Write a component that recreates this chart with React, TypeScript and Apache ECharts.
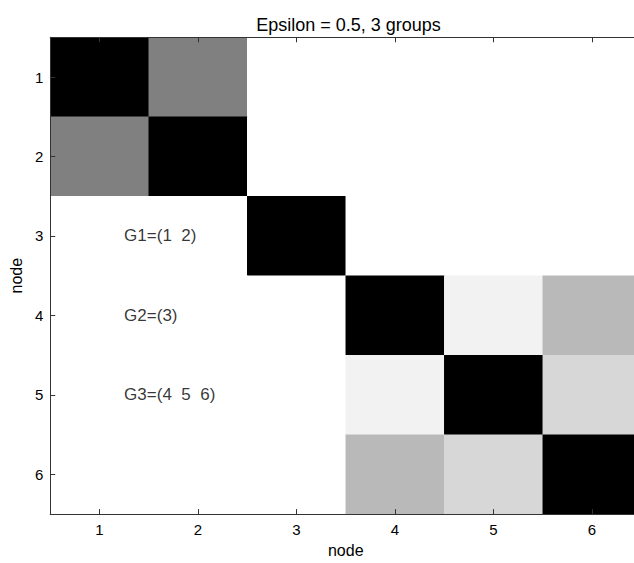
import React, { useEffect, useRef } from "react";
import * as echarts from "echarts";

const nodes = ["1", "2", "3", "4", "5", "6"];
const similarity: number[][] = [
  [1, 0.5, 0, 0, 0, 0],
  [0.5, 1, 0, 0, 0, 0],
  [0, 0, 1, 0, 0, 0],
  [0, 0, 0, 1, 0.05, 0.275],
  [0, 0, 0, 0.05, 1, 0.157],
  [0, 0, 0, 0.275, 0.157, 1],
];
const groupLabels = ["G1=(1  2)", "G2=(3)", "G3=(4  5  6)"];
const groupRows = [3, 4, 5];
const groupX = 1.25;
const titleText = "Epsilon = 0.5, 3 groups";
const axisName = "node";

export default function App() {
  const ref = useRef<HTMLDivElement>(null);
  useEffect(() => {
    if (!ref.current) return;
    const chart = echarts.init(ref.current, null, { renderer: "svg" });
    const heat: number[][] = [];
    similarity.forEach((row, r) =>
      row.forEach((v, c) => heat.push([c, r, v]))
    );
    const font = "'Liberation Sans', Arial, Helvetica, sans-serif";
    const axisLine = { show: true, lineStyle: { color: "#333", width: 1 } };
    const tick = {
      show: true,
      inside: true,
      alignWithLabel: true,
      length: 5,
      lineStyle: { color: "#333", width: 1 },
    };
    chart.setOption({
      animation: false,
      backgroundColor: "#fff",
      title: {
        text: titleText,
        left: 343.5,
        top: 11,
        textAlign: "center",
        textStyle: { fontFamily: font, fontSize: 18, fontWeight: "normal", color: "#000" },
      },
      grid: { left: 49.3, top: 37.3, width: 592, height: 478.2, containLabel: false },
      visualMap: {
        show: false,
        min: 0,
        max: 1,
        seriesIndex: 0,
        inRange: { color: ["#ffffff", "#000000"] },
      },
      xAxis: [
        {
          type: "category",
          data: nodes,
          position: "bottom",
          axisLine,
          axisTick: tick,
          axisLabel: { fontFamily: font, fontSize: 15, color: "#000", margin: 8 },
          splitLine: { show: false },
          name: axisName,
          nameLocation: "middle",
          nameGap: 27.5,
          nameTextStyle: { fontFamily: font, fontSize: 16, color: "#000" },
          z: 10,
        },
        {
          type: "category",
          data: nodes,
          position: "top",
          axisLine,
          axisTick: tick,
          axisLabel: { show: false },
          z: 10,
        },
        { type: "value", min: 0.5, max: 6.5, show: false },
      ],
      yAxis: [
        {
          type: "category",
          data: nodes,
          inverse: true,
          position: "left",
          axisLine,
          axisTick: tick,
          axisLabel: { fontFamily: font, fontSize: 15, color: "#000", margin: 7 },
          splitLine: { show: false },
          name: axisName,
          nameLocation: "middle",
          nameGap: 24.5,
          nameRotate: 90,
          nameTextStyle: { fontFamily: font, fontSize: 16, color: "#000" },
          z: 10,
        },
        {
          type: "category",
          data: nodes,
          inverse: true,
          position: "right",
          axisLine,
          axisTick: tick,
          axisLabel: { show: false },
          z: 10,
        },
        { type: "value", min: 0.5, max: 6.5, inverse: true, show: false },
      ],
      series: [
        {
          type: "heatmap",
          xAxisIndex: 0,
          yAxisIndex: 0,
          data: heat,
          itemStyle: { borderWidth: 0 },
          emphasis: { disabled: true },
        },
        {
          type: "scatter",
          xAxisIndex: 2,
          yAxisIndex: 2,
          symbolSize: 0,
          data: groupLabels.map((t, i) => [groupX, groupRows[i], t]),
          label: {
            show: true,
            position: [0, 0],
            align: "left",
            verticalAlign: "middle",
            formatter: (p: any) => p.data[2],
            fontFamily: font,
            fontSize: 17,
            color: "#000",
          },
          emphasis: { disabled: true },
          z: 5,
        },
      ],
    });
    return () => chart.dispose();
  }, []);
  return (
    <div
      style={{
        position: "fixed",
        left: 0,
        top: 0,
        width: 634,
        height: 563,
        overflow: "hidden",
        background: "#fff",
      }}
    >
      <div ref={ref} style={{ width: 660, height: 563 }} />
    </div>
  );
}
